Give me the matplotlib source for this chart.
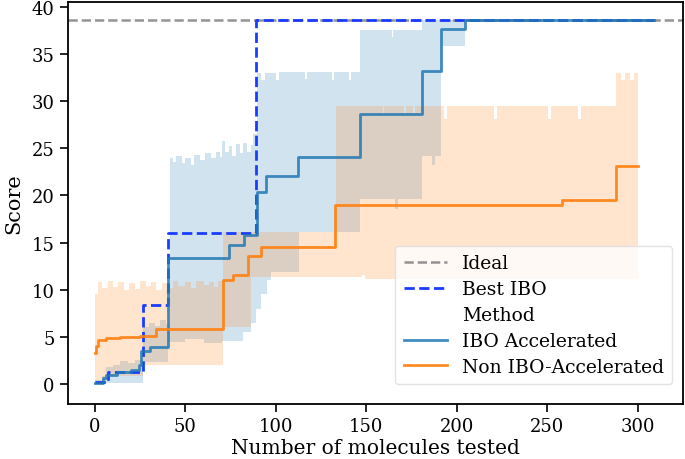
import numpy as np
import matplotlib
matplotlib.use("Agg")
import matplotlib.pyplot as plt
from matplotlib.lines import Line2D

# ---- data (step breakpoints) ----
ideal_score = 38.6

ibo_x = [0, 4.4, 6, 12, 20, 24.3, 25.5, 30.7, 40.3, 74, 82.5, 89.3, 94.8, 112.3, 146.4, 180.5, 191, 204.4, 309]
ibo_y = [0.1, 0.6, 1.0, 1.3, 1.5, 2.0, 3.5, 3.9, 13.4, 14.7, 15.8, 20.4, 22.1, 24.1, 28.6, 33.2, 37.7, 38.6, 38.6]

non_x = [0, 0.7, 1.5, 6, 14, 25, 33.9, 70.7, 76.4, 84.4, 91.7, 132.6, 258.4, 287.8, 300]
non_y = [3.3, 4.0, 4.7, 4.9, 5.0, 5.1, 5.8, 11.0, 11.6, 13.6, 14.5, 19.0, 19.5, 23.1, 23.1]

best_x = [0, 7.2, 26.5, 40.5, 89.2, 309]
best_y = [0.2, 1.3, 8.4, 16.0, 38.6, 38.6]

ibo_up_x = [0, 4, 6, 10, 14, 18, 22, 26.6, 30, 33, 36, 39, 41.3, 43, 45, 48, 50, 53, 55, 58, 61, 64, 67,
            69, 70, 72, 74, 76, 78, 80, 82, 84, 86, 87.5, 89.5, 92, 94, 98, 100, 101.5, 116, 117, 131, 132,
            140.5, 141.5, 146.4, 164, 165, 180.5, 204.4]
ibo_up_y = [0.4, 0.9, 1.8, 2.0, 2.4, 2.2, 2.5, 6.0, 6.5, 6.2, 6.8, 6.4, 24.0, 23.6, 24.2, 23.4, 24.0, 23.2,
            24.3, 23.8, 24.5, 24.0, 24.6, 24.1, 25.8, 24.6, 25.3, 24.2, 25.5, 24.5, 25.6, 24.6, 25.4, 26.5,
            33.0, 32.2, 33.0, 33.0, 32.2, 33.1, 32.4, 33.1, 32.3, 33.1, 32.3, 33.1, 37.6, 36.8, 37.6, 38.6, 38.6]

ibo_lo_x = [0, 5.5, 26.6, 40.3, 50, 60, 70, 82, 86, 89, 92, 95, 97.5, 113, 146.4, 166, 167.5, 180.5,
            186.5, 188, 191.5, 204.4]
ibo_lo_y = [0.0, 0.1, 2.3, 4.5, 4.8, 4.4, 4.6, 5.5, 6.5, 8.0, 9.5, 11.0, 11.9, 16.1, 19.6, 18.6, 19.6,
            24.2, 23.2, 24.2, 35.9, 38.6]

non_up_x = [0, 1.5, 4, 7, 10, 13, 16, 19, 22, 25, 28, 31, 34, 37, 40, 43, 46, 50, 53, 56, 60, 63, 66, 68,
            70.7, 133.5, 159, 160, 171, 172, 176, 177, 193, 194.5, 220.5, 222, 250.5, 252, 267, 268.5,
            287.8, 291, 293, 296, 298, 300]
non_up_y = [9.5, 10.8, 10.2, 10.9, 10.3, 10.8, 10.0, 10.7, 10.1, 10.9, 10.4, 10.8, 10.0, 10.7, 10.2, 10.9,
            10.4, 10.8, 10.2, 10.9, 10.5, 10.8, 10.3, 10.9, 16.1, 29.5, 28.6, 29.5, 28.8, 29.5, 28.8, 29.5,
            28.1, 29.5, 28.1, 29.5, 28.1, 29.5, 28.1, 29.5, 33.0, 32.2, 33.0, 32.2, 33.0, 33.0]

non_lo_x = [0, 6, 26.6, 70.7, 86, 147.5, 149, 300]
non_lo_y = [0.3, 0.9, 2.0, 6.0, 11.3, 11.6, 11.1, 11.1]

xticks = [0, 50, 100, 150, 200, 250, 300]
yticks = [0, 5, 10, 15, 20, 25, 30, 35, 40]

BLUE = "#1f77b4"
ORANGE = "#ff7f0e"
LW = 2.0


def band(up_x, up_y, lo_x, lo_y):
    xs = np.unique(np.concatenate([up_x, lo_x]))
    iu = np.clip(np.searchsorted(up_x, xs, side="right") - 1, 0, len(up_x) - 1)
    il = np.clip(np.searchsorted(lo_x, xs, side="right") - 1, 0, len(lo_x) - 1)
    return xs, np.asarray(up_y)[iu], np.asarray(lo_y)[il]


plt.rcParams["font.family"] = ["DejaVu Serif"]
fig = plt.figure(figsize=(6.85, 4.6), dpi=100)
ax = fig.add_axes([0.099, 0.12, 0.898, 0.873])

bx, bu, bl = band(ibo_up_x, ibo_up_y, ibo_lo_x, ibo_lo_y)
ax.fill_between(bx, bl, bu, step="post", color=BLUE, alpha=0.2, linewidth=0)
ox, ou, ol = band(non_up_x, non_up_y, non_lo_x, non_lo_y)
ax.fill_between(ox, ol, ou, step="post", color=ORANGE, alpha=0.2, linewidth=0)

ax.axhline(ideal_score, color="gray", ls="--", lw=LW * 0.9, alpha=0.85)
ax.plot(best_x, best_y, drawstyle="steps-post", color="#1a3cff", ls="--", lw=LW)
ax.plot(ibo_x, ibo_y, drawstyle="steps-post", color=BLUE, lw=LW, alpha=0.85)
ax.plot(non_x, non_y, drawstyle="steps-post", color=ORANGE, lw=LW, alpha=0.9)

ax.set_xlim(-15, 325)
ax.set_ylim(-2.1, 40.5)
ax.set_xticks(xticks)
ax.set_yticks(yticks)
ax.tick_params(labelsize=13, length=6, width=1.2, direction="out")
for s in ax.spines.values():
    s.set_linewidth(1.3)
ax.set_xlabel("Number of molecules tested", fontsize=14.5, labelpad=2)
ax.set_ylabel("Score", fontsize=15, labelpad=6)

handles = [
    Line2D([], [], color="gray", ls="--", lw=LW * 0.9, alpha=0.85),
    Line2D([], [], color="#1a3cff", ls="--", lw=LW),
    Line2D([], [], color="none"),
    Line2D([], [], color=BLUE, lw=LW, alpha=0.85),
    Line2D([], [], color=ORANGE, lw=LW, alpha=0.9),
]
labels = ["Ideal", "Best IBO", "Method", "IBO Accelerated", "Non IBO-Accelerated"]
leg = ax.legend(handles, labels, loc="lower right", fontsize=13.5, frameon=True,
                handlelength=2.3, handletextpad=0.8, borderpad=0.45, labelspacing=0.42,
                bbox_to_anchor=(0.998, 0.025))
leg.get_frame().set_edgecolor("#dddddd")

fig.savefig("out.png", dpi=100)
